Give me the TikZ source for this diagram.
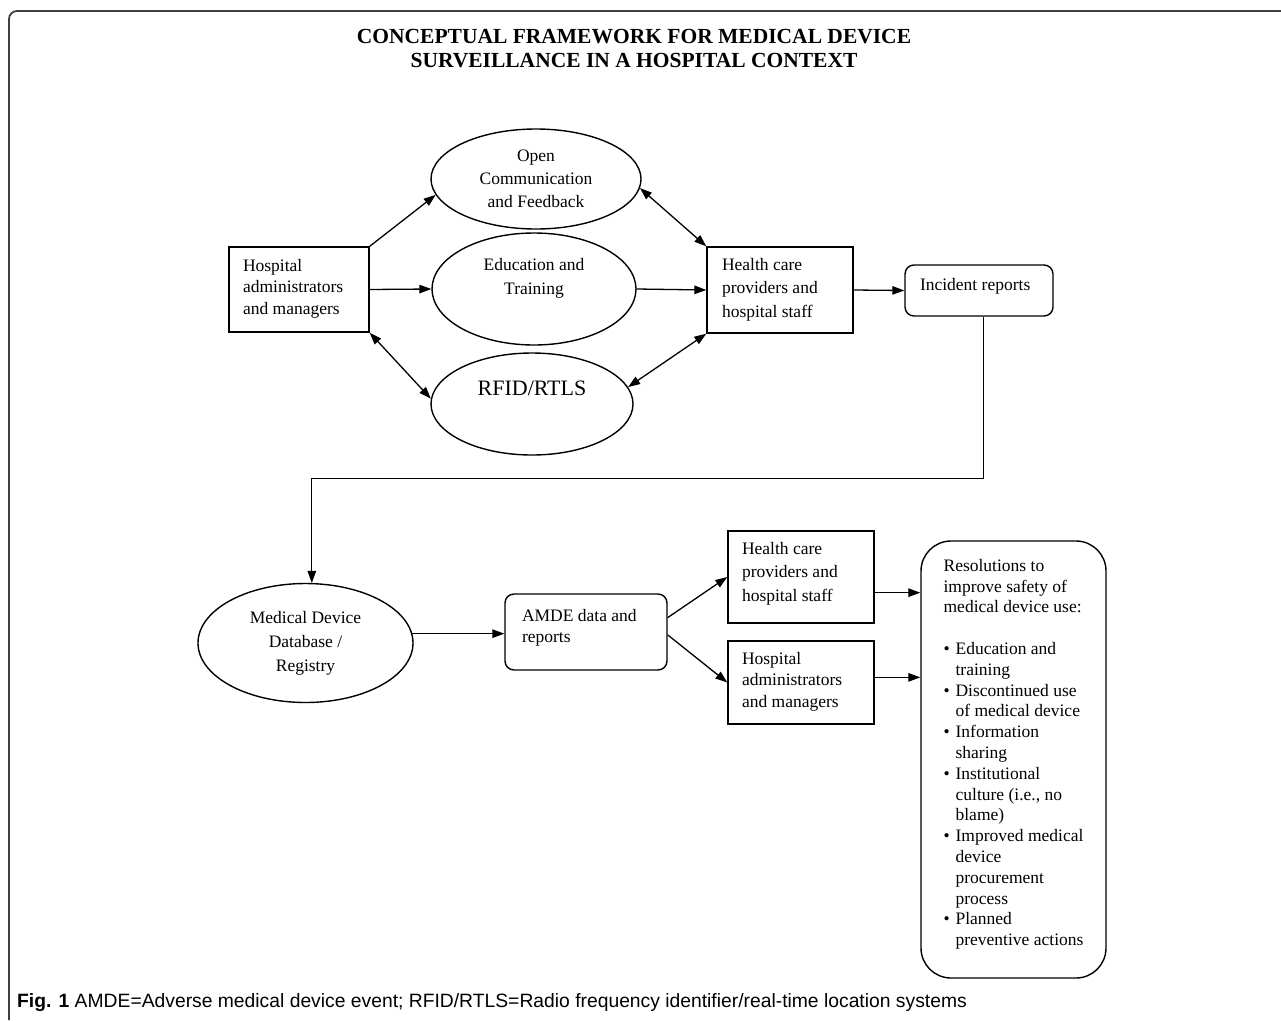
\documentclass[tikz,border=0pt]{standalone}
\usepackage{fontspec}
\setmainfont{Liberation Serif}
\newfontfamily\captionfont{Liberation Sans}
\usetikzlibrary{shapes.geometric, arrows.meta}

\newcommand{\resbullet}{\makebox[12pt][l]{\textbullet}}
\newcommand{\resindent}{\hspace*{12pt}}

\begin{document}
\begin{tikzpicture}[x=1pt, y=-1pt,
  every node/.style={font=\fontsize{17.5}{21.5}\selectfont},
  box/.style={draw, line width=1.4pt, rectangle, align=flush left, inner sep=0pt},
  roundbox/.style={box, rounded corners=9pt},
  oval/.style={draw, line width=1.4pt, ellipse, align=center, inner sep=0pt},
  arrow/.style={line width=1.3pt, -{Triangle[length=12pt,width=8.5pt]}},
  twoway/.style={line width=1.3pt, {Triangle[length=12pt,width=8.5pt]}-{Triangle[length=12pt,width=8.5pt]}}
]
\useasboundingbox (0,0) rectangle (1281,1020);
% frame
\draw[line width=1.8pt, black!75, rounded corners=8pt] (9,1020) -- (9,11) -- (1281,11);

\node[font=\bfseries\fontsize{21.5}{24}\selectfont, align=center] (title) at (634,49)
  {CONCEPTUAL FRAMEWORK FOR MEDICAL DEVICE\\SURVEILLANCE IN A HOSPITAL CONTEXT};

% upper part
\node[box, minimum width=140pt, minimum height=85pt, text width=112pt, text depth=48.5pt] (hadm) at (299,289.5)
  {Hospital\\administrators\\and managers};
\node[oval, minimum width=210pt, minimum height=100pt, font=\fontsize{17.5}{23}\selectfont] (opcom) at (536,179)
  {Open\\Communication\\and Feedback};
\node[oval, minimum width=204pt, minimum height=112pt, text depth=26pt, font=\fontsize{17.5}{24}\selectfont] (edu) at (534,289)
  {Education and\\Training};
\node[oval, minimum width=202pt, minimum height=102pt, text depth=32pt, font=\fontsize{22}{26}\selectfont] (rfid) at (532,404)
  {RFID/RTLS};
\node[box, minimum width=146pt, minimum height=86pt, text width=116pt, text depth=52pt, font=\fontsize{17.5}{23.5}\selectfont] (hcp) at (780,290)
  {Health care\\providers and\\hospital staff};
\node[roundbox, minimum width=148pt, minimum height=51pt, text width=118pt, text depth=12pt] (inc) at (979,290.5)
  {Incident reports};

% lower part
\node[oval, minimum width=215pt, minimum height=119pt, font=\fontsize{17.5}{24}\selectfont] (db) at (305.5,643)
  {Medical Device\\Database /\\Registry};
\node[roundbox, minimum width=162pt, minimum height=76pt, text width=128pt, text depth=34pt] (amde) at (586,632)
  {AMDE data and\\reports};
\node[box, minimum width=146pt, minimum height=92pt, text width=118pt, text depth=58pt, font=\fontsize{17.5}{23.5}\selectfont] (hcp2) at (801,577)
  {Health care\\providers and\\hospital staff};
\node[box, minimum width=146pt, minimum height=83pt, text width=118pt, text depth=49pt] (hadm2) at (801,682.5)
  {Hospital\\administrators\\and managers};
\node[roundbox, rounded corners=30pt, minimum width=185pt, minimum height=437pt, text depth=14pt, font=\fontsize{17.5}{20.8}\selectfont] (res) at (1013.5,759.5)
  {Resolutions to\\improve safety of\\medical device use:\\[20.8pt]
   \resbullet Education and\\\resindent training\\
   \resbullet Discontinued use\\\resindent of medical device\\
   \resbullet Information\\\resindent sharing\\
   \resbullet Institutional\\\resindent culture (i.e., no\\\resindent blame)\\
   \resbullet Improved medical\\\resindent device\\\resindent procurement\\\resindent process\\
   \resbullet Planned\\\resindent preventive actions};

\node[anchor=west, inner sep=0pt, font=\captionfont\fontsize{19.3}{22}\selectfont] (caption) at (17,1003)
  {\textbf{Fig. 1} AMDE=Adverse medical device event; RFID/RTLS=Radio frequency identifier/real-time location systems};

% connectors
\draw[arrow] (hadm.north east) -- (opcom.189);
\draw[arrow] (hadm.east) -- (edu.west);
\draw[twoway] (hadm.south east) -- (rfid.177);
\draw[twoway] (opcom.-5) -- (hcp.north west);
\draw[arrow] (edu.east) -- (hcp.west);
\draw[twoway] (rfid.10) -- (hcp.south west);
\draw[arrow] (hcp.east) -- (inc.west);
\draw[arrow] (inc.-80) -- ++(0,162) -| (db.84);
\draw[arrow] (db.5) -- (db.5 -| amde.west);
\draw[arrow] (amde.10) -- (hcp2.west);
\draw[arrow] (amde.-2) -- (hadm2.west);
\draw[arrow] (hcp2.-12) -- (hcp2.-12 -| res.west);
\draw[arrow] (hadm2.4) -- (hadm2.4 -| res.west);
\end{tikzpicture}
\end{document}
